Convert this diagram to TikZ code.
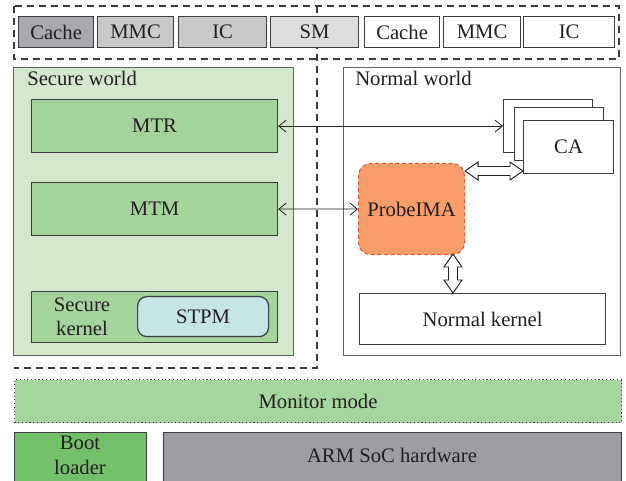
\documentclass[tikz,border=0pt]{standalone}
\usepackage{fontspec}
\setmainfont{Liberation Serif}
\usetikzlibrary{arrows.meta,calc}

\definecolor{ink}{HTML}{231F20}
\definecolor{edge}{HTML}{3C3C3C}
\definecolor{cachedark}{HTML}{A7A9AC}
\definecolor{cachemid}{HTML}{C8C9CB}
\definecolor{smlight}{HTML}{DDDEDF}
\definecolor{securebg}{HTML}{D3E8CD}
\definecolor{modgreen}{HTML}{A4D49C}
\definecolor{monitorbg}{HTML}{A5D69D}
\definecolor{bootgreen}{HTML}{73BF6A}
\definecolor{socgray}{HTML}{9D9EA1}
\definecolor{stpmbg}{HTML}{C5E5E7}
\definecolor{probebg}{HTML}{F89D69}
\definecolor{probeedge}{HTML}{E9572C}

% box given by its corners in pixel units (y grows downwards)
\newcommand\boxat[7]{%
  \node[#6, anchor=north west, inner sep=0pt,
        minimum width={(#4-#2)*0.75pt}, minimum height={(#5-#3)*0.75pt}]
        (#1) at (#2,#3) {#7};}

\begin{document}
\begin{tikzpicture}[x=0.75pt, y=-0.75pt,
  font=\fontsize{15.5}{19}\selectfont, text=ink,
  box/.style={draw=edge, line width=0.9pt, rectangle},
  frame/.style={draw=edge!80, line width=0.9pt},
  dashline/.style={draw=edge, line width=0.8pt, dash pattern=on 5.5pt off 3.5pt},
  link/.style={draw=ink, line width=0.6pt,
    {Straight Barb[length=5.5pt,width=9pt]}-{Straight Barb[length=5.5pt,width=9pt]}},
  hollow/.style={draw=ink, line width=0.7pt, fill=white, line join=miter}
]
\useasboundingbox (0,0) rectangle (626,481);

% dashed outline of the secure side and the shared bus row
\draw[dashline] (14,6) rectangle (619,59);
\draw[dashline] (317,6) -- (317,368) -- (14,368);

% bus components
\boxat{cacheS}{18}{16}{93}{47}{box, fill=cachedark}{Cache}
\boxat{mmcS}{97}{16}{173}{47}{box, fill=cachemid}{MMC}
\boxat{icS}{178}{16}{266}{47}{box, fill=cachemid}{IC}
\boxat{sm}{270}{16}{358}{47}{box, fill=smlight}{SM}
\boxat{cacheN}{364}{16}{439}{47}{box, fill=white}{Cache}
\boxat{mmcN}{443}{16}{520}{47}{box, fill=white}{MMC}
\boxat{icN}{523}{16}{614}{47}{box, fill=white}{IC}

% secure world
\boxat{secure}{13}{67}{293}{355}{frame, fill=securebg}{}
\node[anchor=base west, inner sep=0pt] (securelbl) at (27,86) {Secure world};
\boxat{mtr}{31}{99}{277}{152}{box, fill=modgreen}{MTR}
\boxat{mtm}{31}{182}{277}{235}{box, fill=modgreen}{MTM}
\boxat{skernel}{31}{291}{277}{342}{box, fill=modgreen}{}
\node[align=center, inner sep=0pt, font=\fontsize{15.5}{18}\selectfont] (skernellbl) at (82,317) {Secure\\kernel};
\boxat{stpm}{137}{296}{268}{336}{box, fill=stpmbg, rounded corners=7pt}{STPM}

% normal world
\boxat{normal}{343}{67}{620}{355}{frame, fill=white}{}
\node[anchor=base west, inner sep=0pt] (normallbl) at (355,86) {Normal world};
\boxat{caback}{503}{99}{592}{152}{box, fill=white}{}
\boxat{camid}{514}{107}{603}{160}{box, fill=white}{}
\boxat{ca}{523}{120}{613}{173}{box, fill=white}{CA}
\boxat{probe}{358}{163}{464}{254}{draw=probeedge, line width=0.8pt, dash pattern=on 3pt off 2pt, fill=probebg, rounded corners=9pt}{ProbeIMA}
\boxat{nkernel}{359}{293}{605}{344}{box, fill=white}{Normal kernel}

% monitor and hardware layers
\boxat{monitor}{14}{379}{621}{422}{draw=edge, line width=0.8pt, dotted, fill=monitorbg}{Monitor mode}
\boxat{boot}{14}{432}{146}{500}{box, fill=bootgreen}{}
\node[align=center, inner sep=0pt, font=\fontsize{15.5}{18.75}\selectfont] (bootlbl) at (80,455) {Boot\\loader};
\boxat{soc}{163}{432}{621}{500}{box, fill=socgray}{}
\node[inner sep=0pt] (soclbl) at (392,455) {ARM SoC hardware};

% measurement links
\draw[link] (mtr.east) -- (mtr.east -| caback.west);
\draw[link] (mtm.east) -- (probe.west);

% hollow two-way arrows
\coordinate (pa) at (probe.east |- 0,171);
\coordinate (pb) at (ca.west |- 0,171);
\draw[hollow] (pa) -- ++(13,-9) -- ++(0,4.5) -- ($(pb)+(-13,-4.5)$) -- ++(0,-4.5)
  -- (pb) -- ++(-13,9) -- ++(0,-4.5) -- ($(pa)+(13,4.5)$) -- ++(0,4.5) -- cycle;
\coordinate (qa) at (453,254);
\coordinate (qb) at (nkernel.north -| qa);
\draw[hollow] (qa) -- ++(9,13) -- ++(-4.5,0) -- ($(qb)+(4.5,-13)$) -- ++(4.5,0)
  -- (qb) -- ++(-9,-13) -- ++(4.5,0) -- ($(qa)+(-4.5,13)$) -- ++(-4.5,0) -- cycle;
\end{tikzpicture}
\end{document}
